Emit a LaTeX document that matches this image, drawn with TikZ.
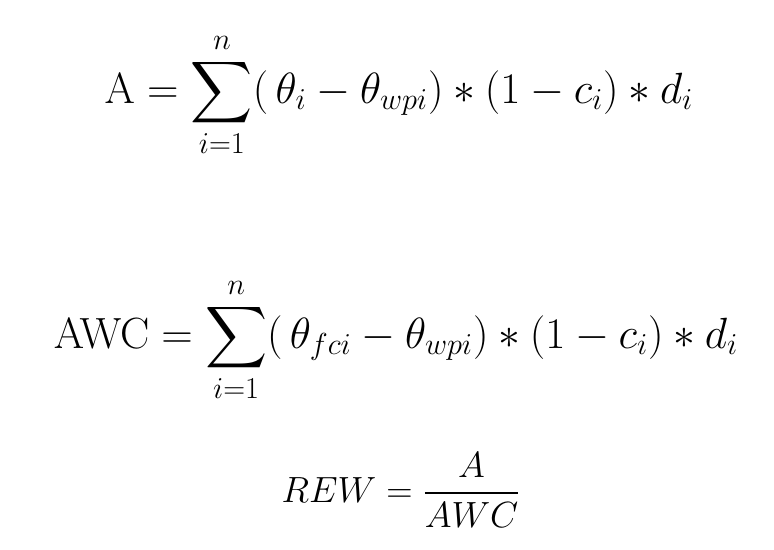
\documentclass[tikz,border=0pt]{standalone}
\usepackage{amsmath,amssymb}
\usepackage{tikz}

\begin{document}
\begin{tikzpicture}[x=0.02cm,y=-0.02cm,
    eq/.style={inner sep=0pt, font=\fontsize{24.5}{29}\selectfont},
    eqfrac/.style={inner sep=0pt, font=\fontsize{21.5}{26}\selectfont}]
    % Frame of the picture
    \useasboundingbox (0,0) rectangle (774,550);

    % Equations
    \node[eq] (eqA) at (399,95)
        {$\displaystyle \mathrm{A}=\sum_{i=1}^{n}(\,\theta_i-\theta_{wpi})*(1-c_i)*d_i$};
    \node[eq] (eqAWC) at (396,340)
        {$\displaystyle \mathrm{AWC}=\sum_{i=1}^{n}(\,\theta_{fci}-\theta_{wpi})*(1-c_i)*d_i$};
    \node[eqfrac] (eqREW) at (401,490)
        {$\displaystyle REW=\frac{A}{AWC}$};
\end{tikzpicture}
\end{document}
